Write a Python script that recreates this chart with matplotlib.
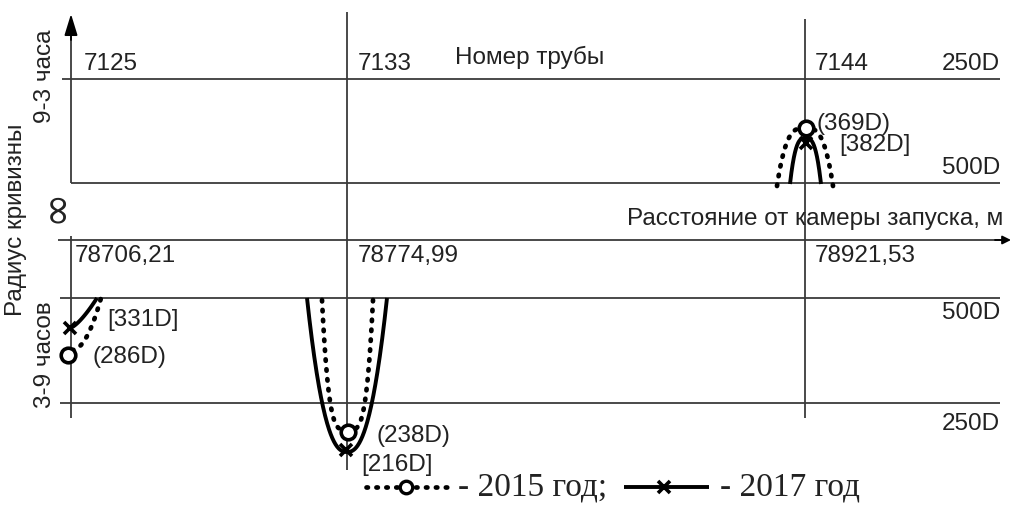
import numpy as np
import matplotlib
matplotlib.use("Agg")
import matplotlib.pyplot as plt

# ---------------- data ----------------
pipe_numbers = ["7125", "7133", "7144"]
distances = ["78706,21", "78774,99", "78921,53"]
radius_ticks_upper = ["250D", "500D"]
radius_ticks_lower = ["500D", "250D"]
radii_2015 = [286, 238, 369]     # (…D)
radii_2017 = [331, 216, 382]     # […D]
years = ["2015", "2017"]

# ---------------- layout (schematic, pixel units) ----------------
W, H = 1011, 521
pipe_x = [71, 347, 805]
y_top250, y_top500, y_axis, y_low500, y_low250 = 79, 183, 240, 298, 403
marker_2015 = [(68, 355), (348, 432), (806, 128)]
marker_2017 = [(70, 328), (346, 450), (806, 143)]
LC = "#3a3a3a"
TC = "#222222"
FS = 17.5
FONT = ["Liberation Sans", "DejaVu Sans"]
SERIF = ["Liberation Serif", "DejaVu Serif"]

fig = plt.figure(figsize=(W / 100, H / 100), dpi=100)
ax = fig.add_axes([0, 0, 1, 1])
ax.set_xlim(0, W)
ax.set_ylim(H, 0)
ax.axis("off")

def hline(y, x0, x1, lw=1.3):
    ax.plot([x0, x1], [y, y], color=LC, lw=lw, solid_capstyle="butt")

def vline(x, y0, y1, lw=1.3):
    ax.plot([x, x], [y0, y1], color=LC, lw=lw, solid_capstyle="butt")

def txt(x, y, s, ha="left", **kw):
    kw.setdefault("fontsize", FS)
    kw.setdefault("family", FONT)
    ax.text(x, y, s, ha=ha, va="center", color=TC, **kw)

# grid lines
hline(y_top250, 62, 1000)
hline(y_top500, 71, 1000)
hline(y_axis, 58, 1003)
hline(y_low500, 60, 1000)
hline(y_low250, 60, 1000)
vline(pipe_x[0], 30, y_top500)
vline(pipe_x[0], 236, 418)
vline(pipe_x[1], 12, 470)
vline(pipe_x[2], 19, 418)
# arrows
ax.annotate("", xy=(pipe_x[0], 14), xytext=(pipe_x[0], 40),
            arrowprops=dict(arrowstyle="-|>,head_length=1.3,head_width=0.4",
                            color="black", lw=1.3, shrinkA=0, shrinkB=0))
ax.annotate("", xy=(1011, y_axis), xytext=(995, y_axis),
            arrowprops=dict(arrowstyle="-|>,head_length=0.5,head_width=0.25",
                            color="black", lw=1.3, shrinkA=0, shrinkB=0))

# texts
txt(pipe_x[0] + 13, 64, pipe_numbers[0])
txt(pipe_x[1] + 11, 64, pipe_numbers[1])
txt(pipe_x[2] + 10, 64, pipe_numbers[2])
txt(455, 57, "Номер трубы")
txt(pipe_x[0] + 4, 256, distances[0])
txt(pipe_x[1] + 11, 256, distances[1])
txt(pipe_x[2] + 10, 256, distances[2])
txt(1003, 219, "Расстояние от камеры запуска, м", ha="right")
txt(1000, 64, radius_ticks_upper[0], ha="right")
txt(1000, 168, radius_ticks_upper[1], ha="right")
txt(1000, 313, radius_ticks_lower[0], ha="right")
txt(1000, 424, radius_ticks_lower[1], ha="right")
txt(16, 220, "Радиус кривизны", ha="center", rotation=90)
txt(45, 76, "9-3 часа", ha="center", rotation=90)
txt(45, 355, "3-9 часов", ha="center", rotation=90)
txt(55, 206, "∞", ha="center", rotation=90, fontsize=30, family=["DejaVu Sans"])

# ---------------- curves ----------------
def u_arc(cx, y_apex, y_end, hw, p, n=200):
    t = np.linspace(-1, 1, n)
    return cx + hw * t, y_apex + (y_end - y_apex) * np.abs(t) ** p

def branch(x0, y0, x1, y1, q, n=100):
    s = np.linspace(0, 1, n)
    return x0 + (x1 - x0) * s, y0 + (y1 - y0) * s ** q

dot_kw = dict(color="black", lw=3.4, linestyle=(0, (0.3, 1.8)), dash_capstyle="round")
sol_kw = dict(color="black", lw=2.8, solid_capstyle="butt")

# lower-left (pipe 7125)
xs, ys = branch(72, 350, 101, 298, 2.0)
ax.plot(xs, ys, **dot_kw)
xs, ys = branch(70, 328, 97, 298, 1.4)
ax.plot(xs, ys, **sol_kw)
# lower-middle (pipe 7133)
xs, ys = u_arc(347, 452, 298, 40, 2.4)
ax.plot(xs, ys, **sol_kw)
xs, ys = u_arc(347.5, 430, 300, 25.5, 4.0)
ax.plot(xs, ys, **dot_kw)
# upper-right (pipe 7144)
xs, ys = u_arc(805, 128, 186, 28, 3.2)
ax.plot(xs, ys, **dot_kw)
xs, ys = u_arc(805.5, 138, 184, 15.5, 3.0)
ax.plot(xs, ys, **sol_kw)

# markers
for (x, y) in marker_2015:
    ax.plot(x, y, marker="o", ms=10.5, mfc="white", mec="black", mew=2.6, zorder=5)
for (x, y) in marker_2017:
    ax.plot(x, y, marker="x", ms=8.5, mec="black", mew=2.6, zorder=6)

# labels of radii
lab_2015 = [(92, 357), (376, 436), (817, 124)]
lab_2017 = [(107, 320), (361, 465), (839, 145)]
for (x, y), r in zip(lab_2015, radii_2015):
    txt(x, y, f"({r}D)")
for (x, y), r in zip(lab_2017, radii_2017):
    txt(x, y, f"[{r}D]")

# legend
ly = 487
ax.plot([366, 448], [ly, ly], **dot_kw)
ax.plot(406, ly, marker="o", ms=9, mfc="white", mec="black", mew=2.4, zorder=5)
ax.text(458, ly, f"- {years[0]} год;", fontsize=24, family=SERIF, va="center", ha="left", color=TC)
ax.plot([624, 709], [ly, ly], **sol_kw)
ax.plot(664, ly, marker="x", ms=8, mec="black", mew=2.6, zorder=6)
ax.text(720, ly, f"- {years[1]} год", fontsize=24, family=SERIF, va="center", ha="left", color=TC)

fig.savefig("out.png", dpi=100)
